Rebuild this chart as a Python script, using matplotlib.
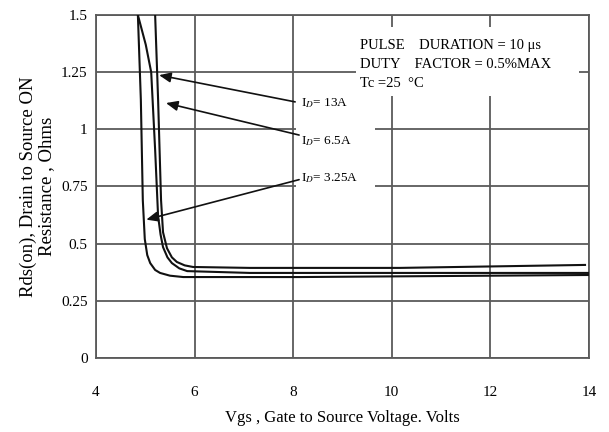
import matplotlib
matplotlib.use("Agg")
import matplotlib.pyplot as plt
from matplotlib.patches import Rectangle

plt.rcParams['font.family'] = ['Liberation Serif', 'DejaVu Serif']
plt.rcParams['mathtext.fontset'] = 'stix'

# Rds(on) vs Vgs curves
vgs_3a = [4.85, 4.91, 4.95, 4.99, 5.04, 5.10, 5.20, 5.30, 5.50, 5.77, 6.5, 8.14, 14.0]
rds_3a = [1.50, 1.13, 0.69, 0.52, 0.45, 0.415, 0.385, 0.372, 0.360, 0.354, 0.354, 0.354, 0.363]

vgs_6a = [4.85, 5.01, 5.12, 5.20, 5.26, 5.31, 5.36, 5.45, 5.54, 5.69, 5.85, 7.12, 14.0]
rds_6a = [1.50, 1.37, 1.25, 0.91, 0.62, 0.54, 0.485, 0.44, 0.415, 0.392, 0.380, 0.372, 0.372]

vgs_13a = [5.20, 5.26, 5.32, 5.36, 5.44, 5.54, 5.64, 5.80, 5.97, 7.12, 10.17, 13.92]
rds_13a = [1.50, 1.13, 0.69, 0.55, 0.48, 0.44, 0.42, 0.405, 0.398, 0.394, 0.394, 0.407]

x_ticks = [4, 6, 8, 10, 12, 14]
y_ticks = [0, 0.25, 0.5, 0.75, 1, 1.25, 1.5]
y_tick_labels = ['0', '0.25', '0.5', '0.75', '1', '1.25', '1.5']

# annotation: (label, text pos, arrow tail, arrow tip)
labels = ['I$_D$= 13A', 'I$_D$= 6.5A', 'I$_D$= 3.25A']
label_pos = [(8.16, 1.115), (8.16, 0.95), (8.16, 0.785)]
arrow_tail = [(8.04, 1.12), (8.12, 0.975), (8.12, 0.78)]
arrow_tip = [(5.28, 1.237), (5.42, 1.115), (5.02, 0.605)]

cond_text = "PULSE    DURATION = 10 \u03bcs\nDUTY    FACTOR = 0.5%MAX\nTc =25  \u00b0C"

fig = plt.figure(figsize=(6.09, 4.32), dpi=100)
ax = fig.add_axes([0.1576, 0.1713, 0.8095, 0.794])

grid_c = '#5a5a5a'
for v in x_ticks:
    ax.axvline(v, color=grid_c, lw=1.3, zorder=1)
for r in y_ticks:
    ax.axhline(r, color=grid_c, lw=1.3, zorder=1)

# white masks behind the text blocks
ax.add_patch(Rectangle((8.06, 0.69), 1.6, 0.48, facecolor='white', edgecolor='none', zorder=2))
ax.add_patch(Rectangle((9.27, 1.147), 4.52, 0.30, facecolor='white', edgecolor='none', zorder=2))

for vx, ry in [(vgs_3a, rds_3a), (vgs_6a, rds_6a), (vgs_13a, rds_13a)]:
    ax.plot(vx, ry, color='#111111', lw=1.5, zorder=4)

for lab, pos, tail, tip in zip(labels, label_pos, arrow_tail, arrow_tip):
    ax.annotate('', xy=tip, xytext=tail,
                arrowprops=dict(arrowstyle='-|>,head_length=0.7,head_width=0.3',
                                color='#111111', lw=1.2, shrinkA=0, shrinkB=0),
                zorder=5)
    ax.text(pos[0], pos[1], lab, fontsize=9.5, va='center', ha='left', zorder=6)

ax.text(9.35, 1.395, cond_text, fontsize=10.5, va='top', ha='left',
        linespacing=1.6, zorder=6)

ax.set_xlim(4, 14)
ax.set_ylim(0, 1.5)
ax.set_xticks(x_ticks)
ax.set_yticks(y_ticks)
ax.set_yticklabels(y_tick_labels)
ax.tick_params(axis='both', length=0, labelsize=11)
ax.tick_params(axis='x', pad=20)
ax.tick_params(axis='y', pad=6)
for s in ax.spines.values():
    s.set_color(grid_c)
    s.set_linewidth(1.3)

ax.set_xlabel('Vgs , Gate to Source Voltage. Volts', fontsize=12, labelpad=8)
ax.set_ylabel('Rds(on), Drain to Source ON\nResistance , Ohms', fontsize=13.5,
              labelpad=4, linespacing=1.15)

fig.savefig('out.png', dpi=100)
